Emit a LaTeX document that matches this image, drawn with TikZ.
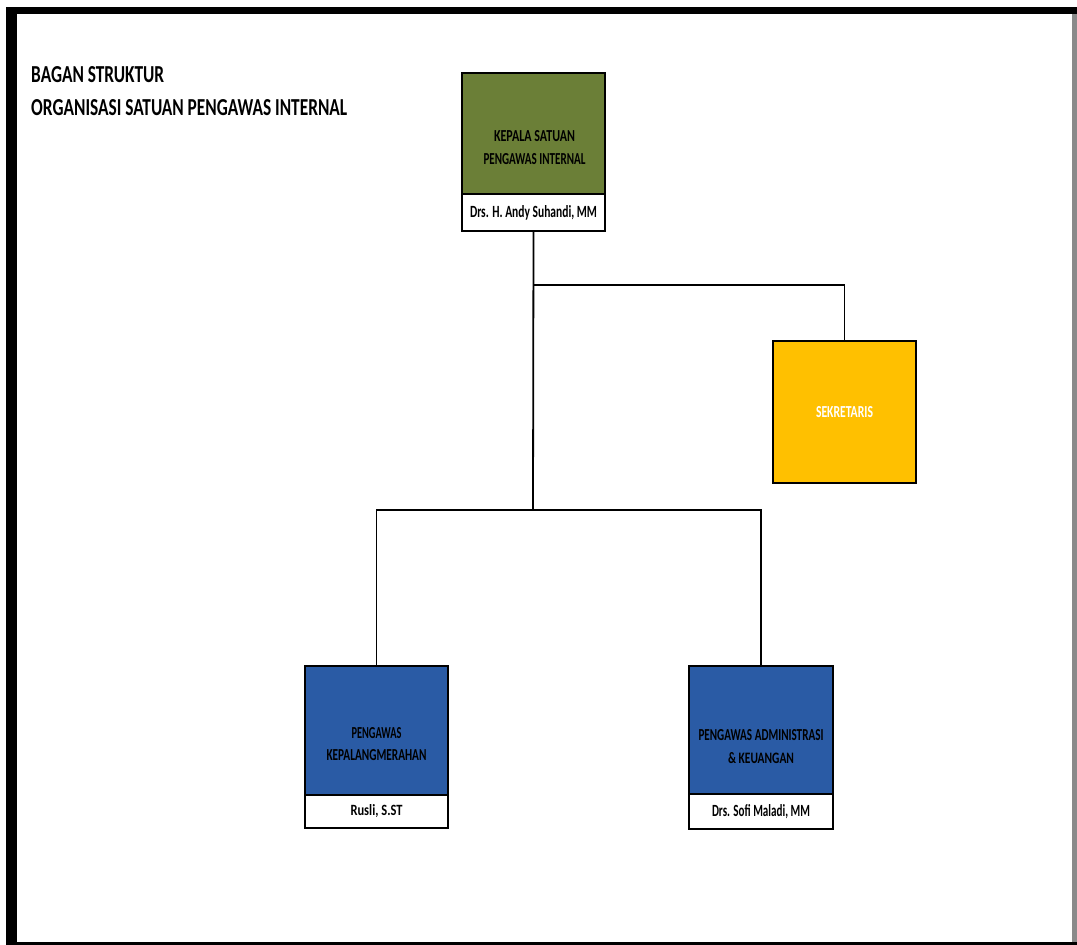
\documentclass[tikz,border=0pt]{standalone}
\usepackage{fontspec}
\setmainfont{Carlito}
\usepackage{graphicx}
\definecolor{kgreen}{HTML}{6B7F37}
\definecolor{kblue}{HTML}{2A5BA5}
\definecolor{kgold}{HTML}{FFC000}
\definecolor{edgegray}{HTML}{8A8A8A}
\newcommand{\fw}[3]{\resizebox{#1pt}{#2pt}{\bfseries #3}}
\tikzset{
  unitbox/.style={draw=black, line width=2pt, inner sep=0pt, minimum width=143pt},
  namebox/.style={unitbox, fill=white},
  lbl/.style={inner sep=0pt, align=center},
  link/.style={draw=black, line width=1.8pt}
}
\begin{document}
\begin{tikzpicture}[x=1pt,y=-1pt]
\useasboundingbox (0,0) rectangle (1077,945);
\fill[white] (0,0) rectangle (1077,945);
% page frame
\fill[black] (6,7) rectangle (17,945);
\fill[black] (6,7) rectangle (1077,14);
\fill[black] (6,942) rectangle (1077,945);
\fill[edgegray] (1072,14) rectangle (1077,942);

% title
\node[lbl, align=left, anchor=north west, font=\fontsize{20}{33}\selectfont] (title) at (31,66)
  {\fw{133}{16}{BAGAN STRUKTUR}\\\fw{316}{16}{ORGANISASI SATUAN PENGAWAS INTERNAL}};

% head
\node[unitbox, fill=kgreen, minimum height=121pt] (k) at (533.5,133.5) {};
\node[namebox, minimum height=37pt] (kn) at (533.5,212.5) {\fw{127}{12}{Drs. H. Andy Suhandi, MM}};
\node[lbl, font=\fontsize{11}{23}\selectfont] (kt) at (534.5,148)
  {\fw{81}{11}{KEPALA SATUAN}\\\fw{102}{11}{PENGAWAS INTERNAL}};

% secretary
\node[unitbox, fill=kgold, minimum height=142pt] (s) at (844.5,412)
  {\color{white}\fw{57}{11}{SEKRETARIS}};

% left unit
\node[unitbox, fill=kblue, minimum height=129pt] (pk) at (376.5,730.5) {};
\node[namebox, minimum height=33pt] (pkn) at (376.5,811.5) {\fw{52}{11}{Rusli, S.ST}};
\node[lbl, font=\fontsize{11}{22}\selectfont] (pkt) at (376.5,744.5)
  {\fw{50}{11}{PENGAWAS}\\\fw{100}{11}{KEPALANGMERAHAN}};

% right unit
\node[unitbox, fill=kblue, minimum width=144pt, minimum height=128pt] (pa) at (761,730) {};
\node[namebox, minimum width=144pt, minimum height=35pt] (pan) at (761,811.5) {\fw{98}{12}{Drs. Sofi Maladi, MM}};
\node[lbl, font=\fontsize{11}{23}\selectfont] (pat) at (761,746.5)
  {\fw{125}{11}{PENGAWAS ADMINISTRASI}\\\fw{66}{11}{\&\ KEUANGAN}};

% connectors
\coordinate (j1) at (533,285);
\coordinate (j2) at (533,510);
\draw[link] (kn.south) -- (j2);
\draw[link] (j1) -| (s.north);
\draw[link] (pk.north) |- (j2) -| (pa.north);
\end{tikzpicture}
\end{document}
